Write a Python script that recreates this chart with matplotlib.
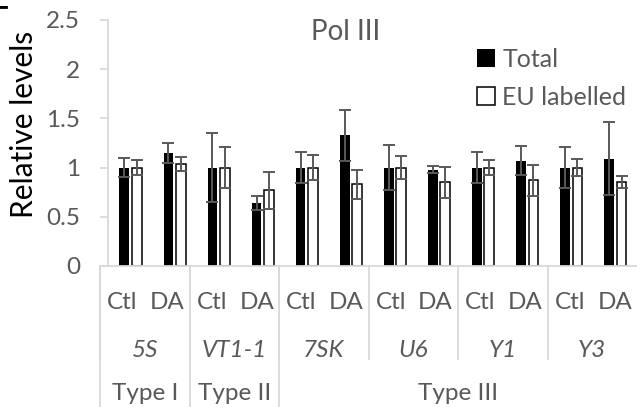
import numpy as np
import matplotlib
matplotlib.use('Agg')
import matplotlib.pyplot as plt

plt.rcParams['font.family'] = ['Lato', 'DejaVu Sans']

# Daten
genes = ['5S', 'VT1-1', '7SK', 'U6', 'Y1', 'Y3']
conditions = ['Ctl', 'DA']
types = ['Type I', 'Type II', 'Type III']
genes_per_type = [1, 1, 4]

total = [1.0, 1.15, 1.0, 0.64, 1.0, 1.33, 1.0, 0.98, 1.0, 1.07, 1.0, 1.09]
total_err = [0.10, 0.10, 0.35, 0.07, 0.16, 0.26, 0.23, 0.035, 0.16, 0.15, 0.21, 0.37]
eu = [1.0, 1.04, 1.0, 0.77, 1.0, 0.83, 1.0, 0.85, 1.0, 0.87, 1.0, 0.85]
eu_err = [0.08, 0.07, 0.21, 0.19, 0.13, 0.15, 0.12, 0.16, 0.08, 0.16, 0.09, 0.06]
yticks = [0, 0.5, 1, 1.5, 2, 2.5]
ytick_labels = ['0', '0.5', '1', '1.5', '2', '2.5']

grey = '#595959'
light = '#d9d9d9'
W, H = 637, 407

fig = plt.figure(figsize=(W / 100, H / 100), dpi=100)
ax = fig.add_axes([108 / W, (H - 266) / H, (W - 108) / W, (266 - 20) / H])

n = len(total)
x = np.arange(n) + 0.5
bw = 0.22
err_kw = dict(ecolor=grey, elinewidth=1.4, capsize=4, capthick=1.4)
b1 = ax.bar(x - 0.13, total, bw, color='black', yerr=total_err,
            error_kw=err_kw, label='Total', zorder=2)
b2 = ax.bar(x + 0.15, eu, bw, color='white', edgecolor='black', linewidth=1.1,
            yerr=eu_err, error_kw=err_kw, label='EU labelled', zorder=2)

ax.set_xlim(0, n)
ax.set_ylim(0, 2.5)
ax.set_yticks(yticks)
ax.set_yticklabels(ytick_labels)
ax.set_xticks([])
for s in ['top', 'right', 'bottom']:
    ax.spines[s].set_visible(False)
ax.spines['left'].set_color(light)
ax.spines['left'].set_linewidth(1.3)
ax.tick_params(axis='y', colors=light, labelcolor=grey, labelsize=17.5,
               length=6, width=1.3, pad=14)

fig.text(24 / W, 1 - 124 / H, 'Relative levels', fontsize=21.5, color='black',
         rotation=90, ha='center', va='center')
fig.text(346 / W, 1 - 32 / H, 'Pol III', fontsize=20, color=grey,
         ha='center', va='center')

leg = ax.legend(loc='upper left', bbox_to_anchor=(369 / (W - 108), 1 - 28 / 246),
                frameon=False, fontsize=18, handlelength=0.72, handleheight=0.72,
                handletextpad=0.3, labelspacing=0.6, borderpad=0, borderaxespad=0)
for t in leg.get_texts():
    t.set_color(grey)

# mehrstufige Kategorienachse
lab = fig.add_axes([100 / W, 0, (W - 100) / W, (H - 266) / H])
lab.set_xlim(0, n)
lab.set_ylim(H - 266, 0)
lab.axis('off')
lab.plot([0, n], [0, 0], color=light, lw=1.3, clip_on=False)

for i in range(n):
    lab.text(i + 0.5, 43, conditions[i % 2], ha='center', va='baseline',
             fontsize=17.5, color=grey)
for g, name in enumerate(genes):
    lab.text(2 * g + 1, 91, name, ha='center', va='baseline', fontsize=17.5,
             color=grey, style='italic')
    lab.plot([2 * g, 2 * g], [0, 93], color=light, lw=1.3, clip_on=False)

start = 0
for t, k in zip(types, genes_per_type):
    lab.text(2 * start + k, 134, t, ha='center', va='baseline', fontsize=17.5,
             color=grey)
    lab.plot([2 * start, 2 * start], [0, H - 266], color=light, lw=1.3,
             clip_on=False)
    start += k

fig.text(-0.012, 1.012, 'F', fontsize=22, fontweight='bold', ha='left', va='top')

fig.savefig('out.png', dpi=100)
